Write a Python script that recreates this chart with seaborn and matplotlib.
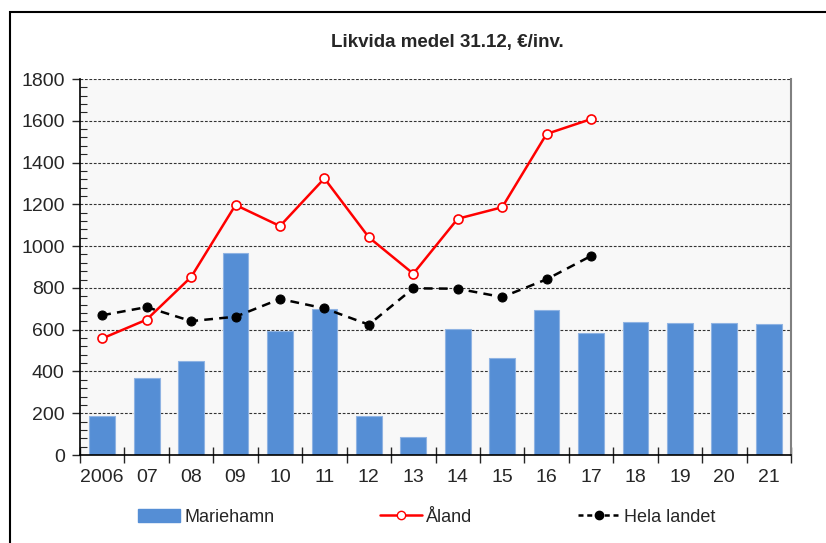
import numpy as np
import pandas as pd
import matplotlib
matplotlib.use("Agg")
import matplotlib.pyplot as plt
from matplotlib.patches import Rectangle
from matplotlib.lines import Line2D
from matplotlib.patches import Patch
import seaborn as sns

# data
years = ["2006", "07", "08", "09", "10", "11", "12", "13",
         "14", "15", "16", "17", "18", "19", "20", "21"]
mariehamn = [188, 367, 450, 965, 593, 699, 188, 88,
             601, 466, 694, 582, 638, 632, 632, 625]
aland = [558, 648, 852, 1197, 1096, 1324, 1042, 868,
         1131, 1186, 1537, 1608]
hela_landet = [669, 708, 641, 662, 747, 702, 624, 798,
               796, 756, 841, 953]

sns.set_style("white")
plt.rcParams['font.family'] = ['Liberation Sans', 'DejaVu Sans']

fig = plt.figure(figsize=(8.26, 5.43), dpi=100)
ax = fig.add_axes([80/826, 1-455/543, (791-80)/826, (455-79)/543])
ax.set_facecolor('#F8F8F8')

df = pd.DataFrame({'year': years, 'val': mariehamn})
sns.barplot(data=df, x='year', y='val', color='#558ED5', saturation=1,
            width=0.58, edgecolor='#8FB3E3', linewidth=0.8, ax=ax, zorder=2)

xa = np.arange(len(aland))
sns.lineplot(x=xa, y=aland, color='#FF0000', lw=1.8, marker='o', ms=6.5,
             mfc='white', mec='#FF0000', mew=1.2, ax=ax, zorder=4)
xh = np.arange(len(hela_landet))
sns.lineplot(x=xh, y=hela_landet, color='black', lw=1.8, ls=(0, (3.5, 2.5)),
             marker='o', ms=6.5, mfc='black', mec='black', ax=ax, zorder=3)

ax.set_xlim(-0.5, len(years) - 0.5)
ax.set_ylim(0, 1800)
ax.set_yticks(np.arange(0, 1801, 200))
ax.set_yticks(np.arange(0, 1801, 40), minor=True)
ax.set_xticks(np.arange(len(years)))
ax.set_xticklabels(years)
ax.set_xticks(np.arange(-0.5, len(years)), minor=True)
ax.set_xlabel('')
ax.set_ylabel('')

ax.tick_params(axis='y', which='major', direction='out', length=6, width=1,
               labelsize=14, pad=5, left=True)
ax.tick_params(axis='y', which='minor', direction='in', length=5, width=0.8, left=True)
ax.tick_params(axis='x', which='major', length=0, labelsize=14, pad=10)
ax.tick_params(axis='x', which='minor', direction='inout', length=11, width=1, bottom=True)

ax.grid(axis='y', which='major', color='#333333', ls=(0, (2.5, 1.5)), lw=0.8, zorder=1)
ax.set_axisbelow(True)

for s in ['left', 'bottom']:
    ax.spines[s].set_color('black')
    ax.spines[s].set_linewidth(1.2)
ax.spines['top'].set_visible(False)
ax.spines['right'].set_color('#808080')
ax.spines['right'].set_linewidth(1.5)

fig.text(447/826, 1-42/543, 'Likvida medel 31.12, €/inv.', ha='center', va='center',
         fontsize=13.5, fontweight='bold')

handles = [
    Patch(facecolor='#558ED5', edgecolor='#558ED5'),
    Line2D([], [], color='#FF0000', lw=1.8, marker='o', ms=6, mfc='white', mec='#FF0000'),
    Line2D([], [], color='black', lw=1.8, ls=(0, (2, 1.5)), marker='o', ms=6, mfc='black'),
]
fig.legend(handles, ['Mariehamn', 'Åland', 'Hela landet'], ncol=3, frameon=False,
           loc='center', bbox_to_anchor=(427/826, 1-517/543), fontsize=13,
           handlelength=2.3, handletextpad=0.25, columnspacing=5.85)

fig.add_artist(Rectangle((10/826, -0.1), 1.2, 1.1 - 12/543, transform=fig.transFigure,
                         fill=False, edgecolor='black', lw=1.5))

fig.savefig('out.png', dpi=100)
